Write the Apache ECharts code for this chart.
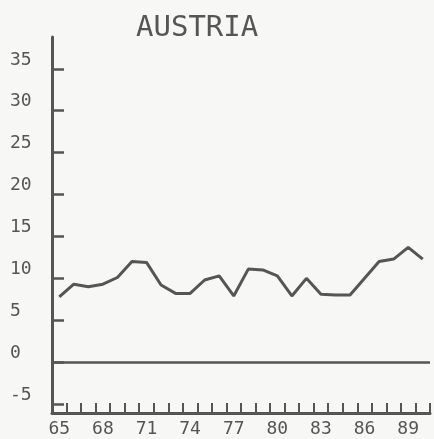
<!DOCTYPE html>
<html>
<head>
<meta charset="utf-8">
<script src="https://cdn.jsdelivr.net/npm/echarts@6/dist/echarts.min.js"></script>
<style>
html,body{margin:0;padding:0;background:#f7f7f5;}
#chart{width:434px;height:439px;}
</style>
</head>
<body>
<div id="chart"></div>
<script>
var years = ['65','66','67','68','69','70','71','72','73','74','75','76','77','78','79','80','81','82','83','84','85','86','87','88','89','90'];
var values = [7.8,9.3,9.0,9.3,10.1,12.0,11.9,9.2,8.2,8.2,9.8,10.3,7.9,11.1,11.0,10.3,7.9,10.0,8.1,8.0,8.0,10.0,12.0,12.3,13.7,12.3];
var yTicks = [-5,0,5,10,15,20,25,30,35];
var titleText = 'AUSTRIA';

var ink = '#555555';
var font = '"DejaVu Sans Mono", monospace';
var chart = echarts.init(document.getElementById('chart'), null, {renderer:'canvas'});
chart.setOption({
  animation: false,
  backgroundColor: '#f7f7f5',
  title: {
    text: titleText,
    left: 131,
    top: 9,
    textStyle: {fontFamily: font, fontSize: 29, fontWeight: 'normal', color: ink}
  },
  grid: {left: 52, right: 4, top: 37, bottom: 26, containLabel: false},
  xAxis: {
    type: 'category',
    data: years,
    boundaryGap: true,
    axisLine: {show: true, onZero: false, lineStyle: {color: ink, width: 3}},
    axisTick: {show: true, inside: true, length: 10, interval: 0, lineStyle: {color: ink, width: 2}},
    axisLabel: {interval: 2, margin: 7, fontFamily: font, fontSize: 18, color: ink},
    splitLine: {show: false}
  },
  yAxis: {
    type: 'value',
    min: -6.07,
    max: 38.8,
    axisLine: {show: true, lineStyle: {color: ink, width: 3}},
    axisTick: {show: true, inside: true, length: 12, customValues: yTicks, lineStyle: {color: ink, width: 2.5}},
    axisLabel: {customValues: yTicks, align: 'left', verticalAlign: 'bottom', margin: 42, fontFamily: font, fontSize: 18, color: ink},
    splitLine: {show: false}
  },
  series: [{
    type: 'line',
    data: values,
    symbol: 'none',
    lineStyle: {color: ink, width: 3},
    markLine: {
      silent: true,
      symbol: 'none',
      label: {show: false},
      lineStyle: {type: 'solid', color: ink, width: 2.5},
      data: [{yAxis: 0}]
    }
  }]
});
</script>
</body>
</html>
